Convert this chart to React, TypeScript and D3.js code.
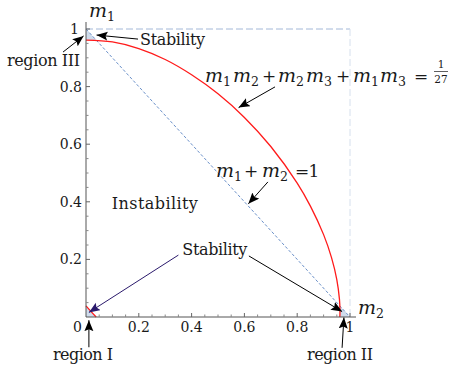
import React from "react";
import * as d3 from "d3";

// outer arc of m1m2 + m2m3 + m1m3 = 1/27 (m3 = 1 - m1 - m2)
const outerM2 = [0, 0.1, 0.2, 0.3, 0.4, 0.5, 0.6, 0.7, 0.8, 0.85, 0.9, 0.93, 0.95, 0.96, 0.962, 0.9615];
const outerM1 = [0.9615, 0.955, 0.932, 0.894, 0.841, 0.775, 0.693, 0.592, 0.465, 0.385, 0.286, 0.206, 0.13, 0.062, 0.019, 0];
// small inner arc near origin
const innerM2 = [0, 0.0185, 0.0385];
const innerM1 = [0.0385, 0.0196, 0];

// stability corners (shaded)
const regionIII = [[0, 1], [0, 0.9615], [0.0385, 0.9615]];
const regionII = [[1, 0], [0.9615, 0], [0.9615, 0.0385]];
const regionI = [[0, 0], [0.0385, 0], [0, 0.0385]];

const xTicks = [0.2, 0.4, 0.6, 0.8, 1];
const yTicks = [0.2, 0.4, 0.6, 0.8, 1];
const tickLabels = ["0.2", "0.4", "0.6", "0.8", "1"];

const W = 451;
const H = 367;
const font = '"DejaVu Serif", "Liberation Serif", serif';
const ink = "#1a1a1a";

// italic m with a subscript
function Mi({ x, y, s, size = 19 }: { x: number; y: number; s: string; size?: number }) {
  return (
    <text x={x} y={y} fontSize={size} fill={ink} style={{ fontFamily: font }}>
      <tspan fontStyle="italic">m</tspan>
      <tspan fontSize={size * 0.66} dy={size * 0.22}>{s}</tspan>
    </text>
  );
}

function Op({ x, y, s }: { x: number; y: number; s: string }) {
  return (
    <text x={x} y={y} fontSize={17} fill={ink} textAnchor="middle" style={{ fontFamily: font }}>
      {s}
    </text>
  );
}

export default function App() {
  const x = d3.scaleLinear().domain([0, 1]).range([86, 350]);
  const y = d3.scaleLinear().domain([0, 1]).range([317, 29]);

  const line = d3
    .line<[number, number]>()
    .x((d) => x(d[0]))
    .y((d) => y(d[1]))
    .curve(d3.curveCatmullRom.alpha(0.5));
  const poly = d3
    .line<number[]>()
    .x((d) => x(d[0]))
    .y((d) => y(d[1]));

  const outer = outerM2.map((m2, i) => [m2, outerM1[i]] as [number, number]);
  const inner = innerM2.map((m2, i) => [m2, innerM1[i]] as [number, number]);

  const minor = d3.range(0.05, 1.001, 0.05).filter((v) => Math.abs(v * 5 - Math.round(v * 5)) > 1e-6);

  // arrows in data units: [fromX, fromY, toX, toY, colour]
  const arrows: [number, number, number, number, string][] = [
    [0.197, 0.965, 0.04, 0.979, "#000"],
    [-0.087, 0.92, -0.009, 0.976, "#000"],
    [0.716, 0.799, 0.578, 0.727, "#000"],
    [0.689, 0.469, 0.615, 0.393, "#000"],
    [0.35, 0.215, 0.011, 0.016, "#2b1a6c"],
    [0.617, 0.212, 0.97, 0.019, "#000"],
    [0.011, -0.105, 0.011, -0.011, "#000"],
    [0.97, -0.107, 0.977, -0.002, "#000"],
  ];

  const eqX = x(0.451);
  const eqY = 82;
  const lineX = 216;
  const lineY = 177;

  return (
    <svg
      width={W}
      height={H}
      style={{ position: "absolute", left: 0, top: 0, background: "#fff", fontFamily: font }}
    >
      <defs>
        {["#000", "#2b1a6c"].map((c, i) => (
          <marker
            key={c}
            id={"ah" + i}
            markerUnits="userSpaceOnUse"
            markerWidth={12}
            markerHeight={10}
            refX={11}
            refY={4.5}
            orient="auto"
          >
            <path d="M0,0 L11,4.5 L0,9 L2,4.5 z" fill={c} />
          </marker>
        ))}
      </defs>

      {/* shaded stability corners */}
      {[regionI, regionII, regionIII].map((r, i) => (
        <path key={i} d={poly(r) + "Z"} fill="#cfdcec" />
      ))}

      {/* frame lines */}
      <line x1={x(0)} x2={x(1)} y1={y(1)} y2={y(1)} stroke="#a3b8d8" strokeDasharray="7,3" strokeWidth={1} />
      <line x1={x(1)} x2={x(1)} y1={y(1)} y2={y(0)} stroke="#d6e0ed" strokeDasharray="7,3" strokeWidth={1} />
      <line x1={x(0)} x2={x(1)} y1={y(1)} y2={y(0)} stroke="#6a90c9" strokeDasharray="3,2" strokeWidth={1} />

      {/* curve */}
      <path d={line(outer) || ""} fill="none" stroke="#ff1a1a" strokeWidth={1.3} />
      <path d={line(inner) || ""} fill="none" stroke="#ff1a1a" strokeWidth={1.3} />

      {/* axes */}
      <line x1={x(0)} x2={x(0)} y1={y(1) - 7} y2={y(0)} stroke="#555" strokeWidth={1} />
      <line x1={x(0)} x2={x(1) + 6} y1={y(0)} y2={y(0)} stroke="#555" strokeWidth={1} />
      {xTicks.map((t, i) => (
        <g key={"x" + t}>
          <line x1={x(t)} x2={x(t)} y1={y(0)} y2={y(0) - 4} stroke="#666" />
          <text x={x(t)} y={332} textAnchor="middle" fontSize={14} fill={ink}>
            {tickLabels[i]}
          </text>
        </g>
      ))}
      {yTicks.map((t, i) => (
        <g key={"y" + t}>
          <line x1={x(0)} x2={x(0) + 4} y1={y(t)} y2={y(t)} stroke="#666" />
          <text x={t === 1 ? 79 : 82} y={y(t) + 5} textAnchor="end" fontSize={14} fill={ink}>
            {tickLabels[i]}
          </text>
        </g>
      ))}
      {minor.map((t) => (
        <g key={"m" + t}>
          <line x1={x(t)} x2={x(t)} y1={y(0)} y2={y(0) - 2.5} stroke="#888" />
          <line x1={x(0)} x2={x(0) + 2.5} y1={y(t)} y2={y(t)} stroke="#888" />
        </g>
      ))}
      <text x={82} y={332} textAnchor="end" fontSize={14} fill={ink}>0</text>

      {/* axis names */}
      <Mi x={89} y={17} s="1" />
      <Mi x={358} y={314} s="2" />

      {/* arrows */}
      {arrows.map(([x1, y1, x2, y2, c], i) => (
        <line
          key={i}
          x1={x(x1)}
          y1={y(y1)}
          x2={x(x2)}
          y2={y(y2)}
          stroke={c}
          strokeWidth={1}
          markerEnd={`url(#ah${c === "#000" ? 0 : 1})`}
        />
      ))}

      {/* labels */}
      <text x={x(0.205)} y={y(0.944)} fontSize={16} textLength={65} fill={ink}>Stability</text>
      <text x={80} y={66} textAnchor="end" fontSize={16} textLength={73} fill={ink}>region III</text>
      <text x={x(0.098)} y={y(0.375)} fontSize={16} textLength={86} fill={ink}>Instability</text>
      <text x={x(0.365)} y={y(0.215)} fontSize={16} textLength={65} fill={ink}>Stability</text>
      <text x={53} y={360} fontSize={16} textLength={60} fill={ink}>region I</text>
      <text x={307} y={360} fontSize={16} textLength={66} fill={ink}>region II</text>

      {/* equation of the curve */}
      <Mi x={eqX} y={eqY} s="1" />
      <Mi x={eqX + 28} y={eqY} s="2" />
      <Op x={eqX + 64} y={eqY} s="+" />
      <Mi x={eqX + 73} y={eqY} s="2" />
      <Mi x={eqX + 101} y={eqY} s="3" />
      <Op x={eqX + 138} y={eqY} s="+" />
      <Mi x={eqX + 148} y={eqY} s="1" />
      <Mi x={eqX + 175} y={eqY} s="3" />
      <Op x={eqX + 216} y={eqY} s="=" />
      <text x={441} y={67.5} textAnchor="middle" fontSize={10.5} fill={ink}>1</text>
      <line x1={434} x2={448} y1={71.5} y2={71.5} stroke={ink} strokeWidth={0.7} />
      <text x={441} y={82.5} textAnchor="middle" fontSize={10.5} fill={ink}>27</text>

      {/* diagonal equation */}
      <Mi x={lineX} y={lineY} s="1" />
      <Op x={lineX + 35} y={lineY} s="+" />
      <Mi x={lineX + 46} y={lineY} s="2" />
      <Op x={lineX + 86} y={lineY} s="=" />
      <Op x={lineX + 98} y={lineY} s="1" />
    </svg>
  );
}
